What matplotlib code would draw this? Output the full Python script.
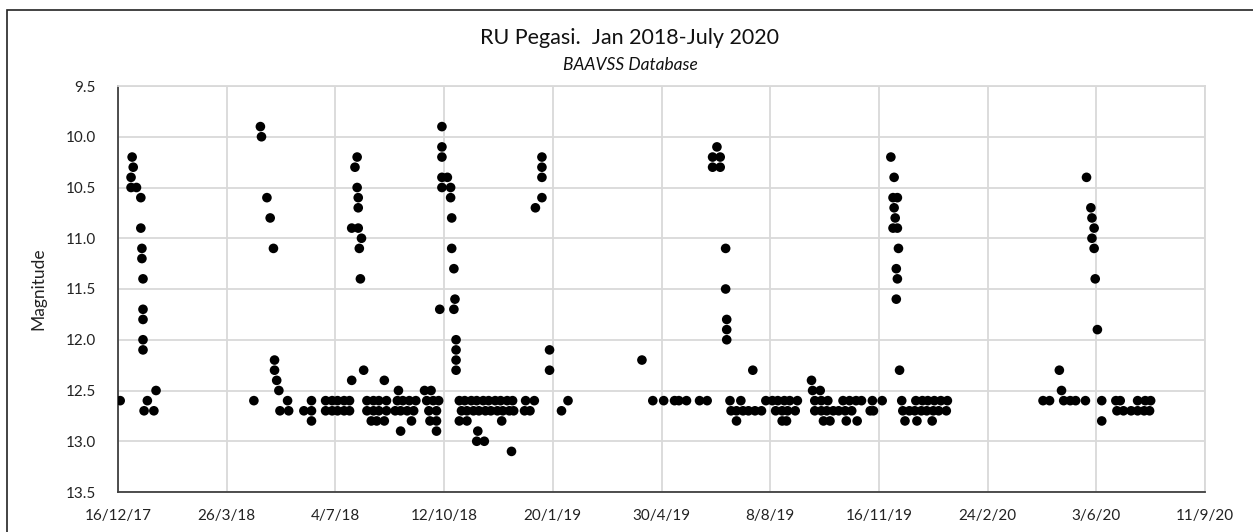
import matplotlib
matplotlib.use("Agg")
import matplotlib.pyplot as plt
import numpy as np
import pandas as pd

plt.rcParams['font.family'] = ['Lato', 'DejaVu Sans']

# day 0 = 16/12/2017, magnitudes
start = pd.Timestamp("2017-12-16")

# quiescent level observations, grouped by magnitude
days_124 = [146, 215, 245, 638]
days_125 = [35, 148, 258, 282, 288, 639, 646, 868]
days_126 = [2, 27, 125, 156, 178, 191, 197, 202, 208, 213, 229, 235, 240, 247,
            257, 262, 268, 274, 284, 290, 295, 314, 319, 325, 330, 336, 341,
            347, 352, 358, 363, 375, 383, 414, 492, 502, 512, 516, 523, 535,
            542, 563, 573, 596, 602, 607, 613, 618, 625, 641, 647, 653, 667,
            673, 679, 684, 694, 703, 721, 734, 740, 745, 751, 757, 763, 851,
            857, 870, 876, 881, 890, 905, 918, 922, 938, 945, 950]
days_127 = [24, 33, 149, 157, 171, 178, 191, 197, 202, 208, 213, 229, 235, 240,
            247, 255, 260, 266, 272, 286, 293, 316, 321, 327, 332, 338, 343,
            349, 354, 360, 364, 374, 379, 408, 564, 569, 575, 580, 586, 592,
            605, 611, 616, 623, 641, 647, 652, 658, 663, 669, 675, 692, 695,
            722, 728, 733, 739, 744, 750, 755, 762, 919, 925, 932, 938, 944, 949]
days_128 = [178, 233, 238, 245, 270, 287, 293, 314, 321, 353, 569, 611, 615,
            649, 655, 670, 680, 724, 735, 749, 905]
days_129 = [260, 293, 331]
days_130 = [330, 337]
days_131 = [362]

# outburst observations
outburst_days = [13, 14, 12, 12, 17, 21, 21, 22, 22, 23, 23, 23, 23, 23,
                 131, 132, 137, 140, 143, 144, 144,
                 220, 218, 220, 221, 221, 215, 221, 224, 222, 223, 226, 296,
                 298, 298, 298, 298, 303, 298, 306, 306, 307, 307, 309, 310, 309,
                 311, 311, 311, 311,
                 390, 390, 390, 390, 384, 397, 397,
                 482,
                 551, 547, 554, 547, 554, 559, 559, 560, 560, 560, 584,
                 711, 714, 713, 717, 714, 715, 713, 717, 718, 716, 717, 716, 719,
                 891, 895, 896, 898, 896, 898, 899, 901, 866]
outburst_mags = [10.2, 10.3, 10.4, 10.5, 10.5, 10.6, 10.9, 11.1, 11.2, 11.4, 11.7, 11.8, 12.0, 12.1,
                 9.9, 10.0, 10.6, 10.8, 11.1, 12.2, 12.3,
                 10.2, 10.3, 10.5, 10.6, 10.7, 10.9, 10.9, 11.0, 11.1, 11.4, 12.3, 11.7,
                 9.9, 10.1, 10.2, 10.4, 10.4, 10.5, 10.5, 10.6, 10.8, 11.1, 11.3, 11.6, 11.7,
                 12.0, 12.1, 12.2, 12.3,
                 10.2, 10.3, 10.4, 10.6, 10.7, 12.1, 12.3,
                 12.2,
                 10.1, 10.2, 10.2, 10.3, 10.3, 11.1, 11.5, 11.8, 11.9, 12.0, 12.3,
                 10.2, 10.4, 10.6, 10.6, 10.7, 10.8, 10.9, 10.9, 11.1, 11.3, 11.4, 11.6, 12.3,
                 10.4, 10.7, 10.8, 10.9, 11.0, 11.1, 11.4, 11.9, 12.3]

levels = [(12.4, days_124), (12.5, days_125), (12.6, days_126), (12.7, days_127),
          (12.8, days_128), (12.9, days_129), (13.0, days_130), (13.1, days_131)]

days = list(outburst_days)
mags = list(outburst_mags)
for m, ds in levels:
    days += ds
    mags += [m] * len(ds)

x_ticks = np.arange(0, 1001, 100)
x_labels = []
for t in x_ticks:
    d = start + pd.Timedelta(days=int(t))
    x_labels.append("{}/{}/{}".format(d.day, d.month, d.year % 100))

fig = plt.figure(figsize=(12.53, 5.32), dpi=100)
ax = fig.add_axes([118 / 1253, 1 - 492 / 532, 1087 / 1253, 406 / 532])

ax.scatter(days, mags, s=48, c='black', edgecolors='none', zorder=3)

ax.set_xlim(0, 1000)
ax.set_ylim(13.5, 9.5)
ax.set_xticks(x_ticks)
ax.set_xticklabels(x_labels)
ax.set_yticks(np.arange(9.5, 13.51, 0.5))
ax.set_yticklabels(["{:.1f}".format(v) for v in np.arange(9.5, 13.51, 0.5)])
ax.grid(True, color='#d9d9d9', linewidth=1.3)
ax.set_axisbelow(True)
ax.tick_params(length=0, labelsize=11, colors='#222222', pad=12)
ax.tick_params(axis='y', pad=16)
for s in ['top', 'right']:
    ax.spines[s].set_color('#d9d9d9')
    ax.spines[s].set_linewidth(1.3)
for s in ['left', 'bottom']:
    ax.spines[s].set_color('#404040')
    ax.spines[s].set_linewidth(1.3)

ax.set_ylabel("Magnitude", fontsize=12.5, color='#222222', labelpad=14)

fig.text(630 / 1253, 1 - 38 / 532, "RU Pegasi.  Jan 2018-July 2020", ha='center',
         va='center', fontsize=15.5, color='#111111')
fig.text(630 / 1253, 1 - 65 / 532, "BAAVSS Database", ha='center', va='center',
         fontsize=12.5, style='italic', color='#111111')

border = plt.Rectangle((7 / 1253, -0.1), 1.2, 1 - 9.5 / 532 + 0.1, transform=fig.transFigure,
                       fill=False, edgecolor='#222222', linewidth=1.2)
fig.add_artist(border)

fig.savefig("out.png", dpi=100)
